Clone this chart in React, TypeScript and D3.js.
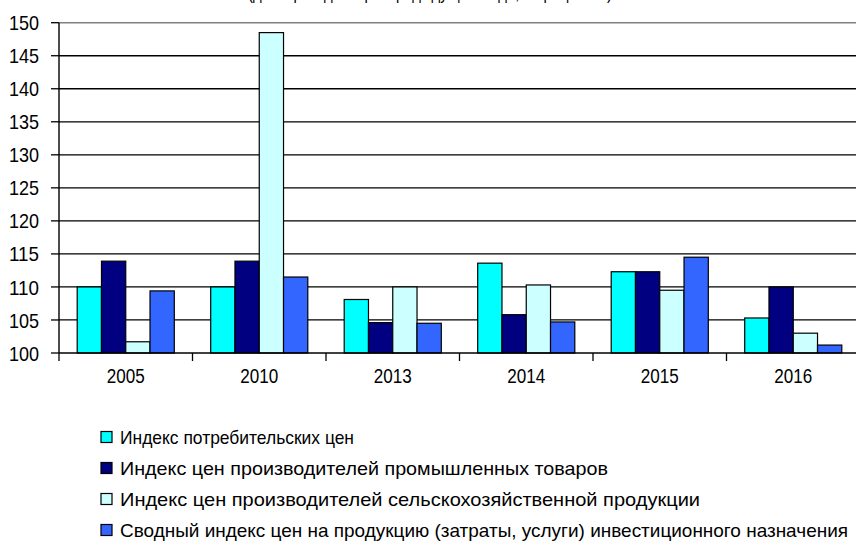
import * as React from "react"
import * as d3 from "d3"

const years = ["2005", "2010", "2013", "2014", "2015", "2016"]
const seriesNames = [
  "Индекс потребительских цен",
  "Индекс цен производителей промышленных товаров",
  "Индекс цен производителей сельскохозяйственной продукции",
  "Сводный индекс цен на продукцию (затраты, услуги) инвестиционного назначения",
]
const consumer = [110.0, 110.0, 108.1, 113.6, 112.3, 105.3]
const industrial = [113.9, 113.9, 104.6, 105.8, 112.3, 110.0]
const agricultural = [101.7, 148.5, 110.0, 110.3, 109.5, 103.0]
const investment = [109.4, 111.5, 104.5, 104.7, 114.5, 101.2]
const yTicks = [100, 105, 110, 115, 120, 125, 130, 135, 140, 145, 150]
const title = "(декабрь к декабрю предыдущего года, в процентах)"

const seriesValues = [consumer, industrial, agricultural, investment]
const colors = ["#00FFFF", "#000080", "#CCFFFF", "#3366FF"]
// measured widths of the condensed labels in the reference
const legendWidths = [234, 488, 580, 728]

const W = 856
const H = 555
const font = "'Liberation Sans', Arial, sans-serif"

export default function App() {
  const x = d3.scaleBand().domain(years).range([59, 860]).paddingInner(0).paddingOuter(0)
  const inner = d3
    .scaleBand<number>()
    .domain(d3.range(seriesValues.length))
    .range([0, x.bandwidth()])
    .paddingInner(0)
    .paddingOuter(0.75)
  const y = d3.scaleLinear().domain([100, 150]).range([353, 22.7])

  return (
    <div style={{ position: "fixed", left: 0, top: 0, width: W, height: H, background: "#fff" }}>
      <svg width={W} height={H} style={{ display: "block", overflow: "hidden" }} fontFamily={font}>
        {/* title sits mostly above the visible area, as in the reference */}
        <text x={430} y={-1} fontSize={18} textAnchor="middle" textLength={364} lengthAdjust="spacingAndGlyphs">
          {title}
        </text>

        {/* gridlines */}
        {yTicks.slice(1).map((t) => (
          <line
            key={t}
            x1={59}
            x2={W}
            y1={y(t)}
            y2={y(t)}
            stroke={t === 150 ? "#808080" : "#000"}
            strokeWidth={t === 150 ? 1.6 : 1.3}
          />
        ))}

        {/* bars */}
        {years.map((yr, i) => (
          <g key={yr} transform={`translate(${x(yr)},0)`}>
            {seriesValues.map((vals, s) => (
              <rect
                key={s}
                x={inner(s)}
                y={y(vals[i])}
                width={inner.bandwidth()}
                height={y(100) - y(vals[i])}
                fill={colors[s]}
                stroke="#000"
                strokeWidth={1.2}
              />
            ))}
          </g>
        ))}

        {/* y axis */}
        <line x1={59} x2={59} y1={y(150)} y2={y(100)} stroke="#000" strokeWidth={1.4} />
        {yTicks.map((t) => (
          <g key={t}>
            <line x1={51} x2={59} y1={y(t)} y2={y(t)} stroke="#000" strokeWidth={1.3} />
            <text
              x={39}
              y={y(t)}
              dy="0.36em"
              fontSize={21}
              textAnchor="end"
              textLength={30}
              lengthAdjust="spacingAndGlyphs"
            >
              {t}
            </text>
          </g>
        ))}

        {/* x axis */}
        <line x1={59} x2={W} y1={y(100)} y2={y(100)} stroke="#000" strokeWidth={1.4} />
        {years.map((yr) => (
          <line key={yr} x1={x(yr)} x2={x(yr)} y1={y(100)} y2={y(100) + 8} stroke="#000" strokeWidth={1.3} />
        ))}
        {years.map((yr) => (
          <text
            key={yr}
            x={(x(yr) ?? 0) + x.bandwidth() / 2}
            y={376}
            dy="0.36em"
            fontSize={20.5}
            textAnchor="middle"
            textLength={38}
            lengthAdjust="spacingAndGlyphs"
          >
            {yr}
          </text>
        ))}

        {/* legend */}
        {seriesNames.map((name, s) => {
          const cy = 437 + s * 31
          return (
            <g key={name}>
              <rect x={101} y={cy - 5.5} width={11} height={11} fill={colors[s]} stroke="#000" strokeWidth={1.2} />
              <text
                x={120}
                y={cy}
                dy="0.36em"
                fontSize={19}
                textLength={legendWidths[s]}
                lengthAdjust="spacingAndGlyphs"
              >
                {name}
              </text>
            </g>
          )
        })}
      </svg>
    </div>
  )
}
